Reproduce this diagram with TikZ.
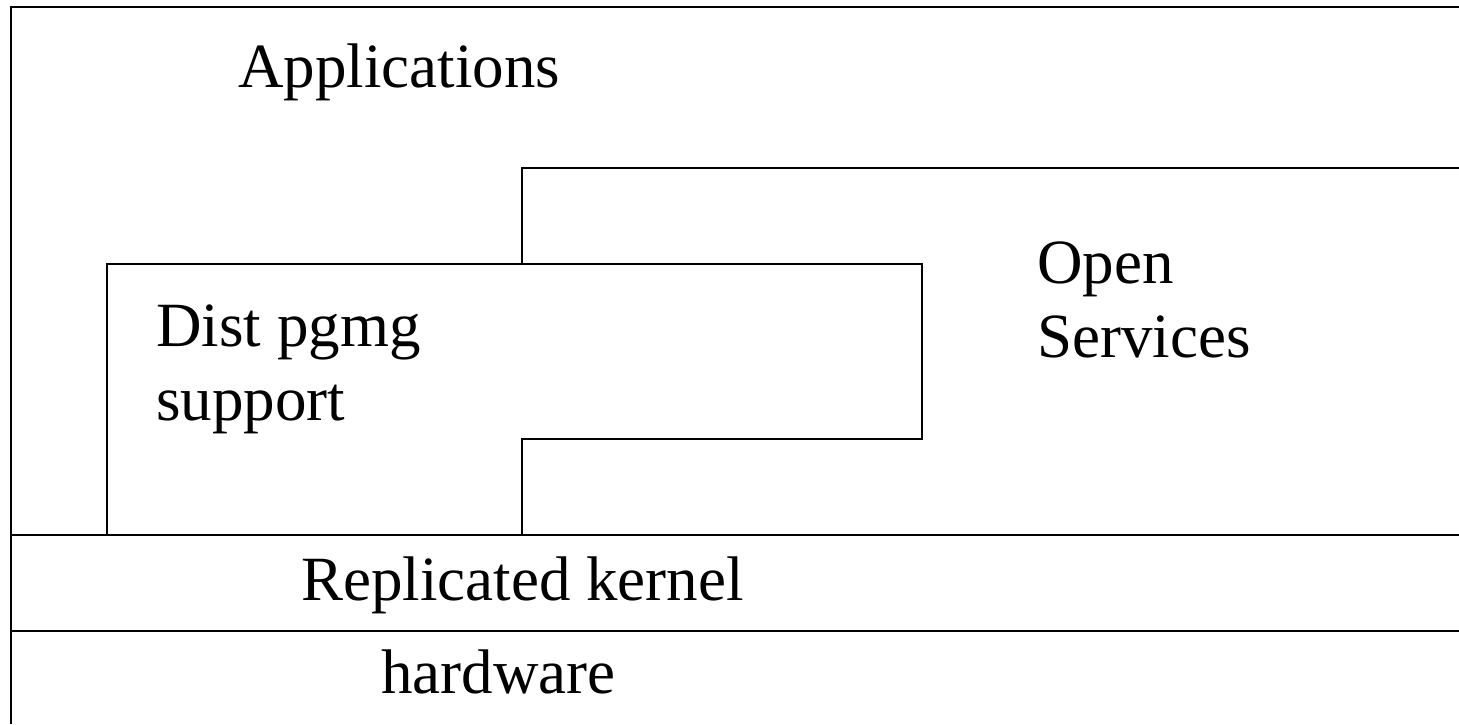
\documentclass[tikz,border=0pt]{standalone}
\usepackage{fontspec}
\setmainfont{Liberation Serif}
\begin{document}
\begin{tikzpicture}[x=0.5pt, y=-0.5pt, line width=1.25pt,
    layer/.style={anchor=base west, inner sep=0pt, align=left,
      font=\fontsize{31.5}{37}\selectfont}]
    \useasboundingbox (0,0) rectangle (1459,724);
    % frame and the two bottom layers
    \draw (1459,7) -| (11,724); \draw (11,535) -- (1459,535);
    \draw (11,631) -- (1459,631);
    % open services and dist support blocks
    \draw (1459,168) -| (522,264); \draw (107,535) |- (922,264) |-
    (522,439) -- (522,535);
    \begin{scope}[every node/.style={layer}]
      \node (apps) at (237,87) {Applications}; \node (open) at
      (1036,357) {Open\\Services}; \node (dist) at (155,420) {Dist
        pgmg\\support}; \node (kernel) at (300,600) {Replicated
        kernel}; \node (hw) at (380,693) {hardware};
    \end{scope}
  \end{tikzpicture}
\end{document}
